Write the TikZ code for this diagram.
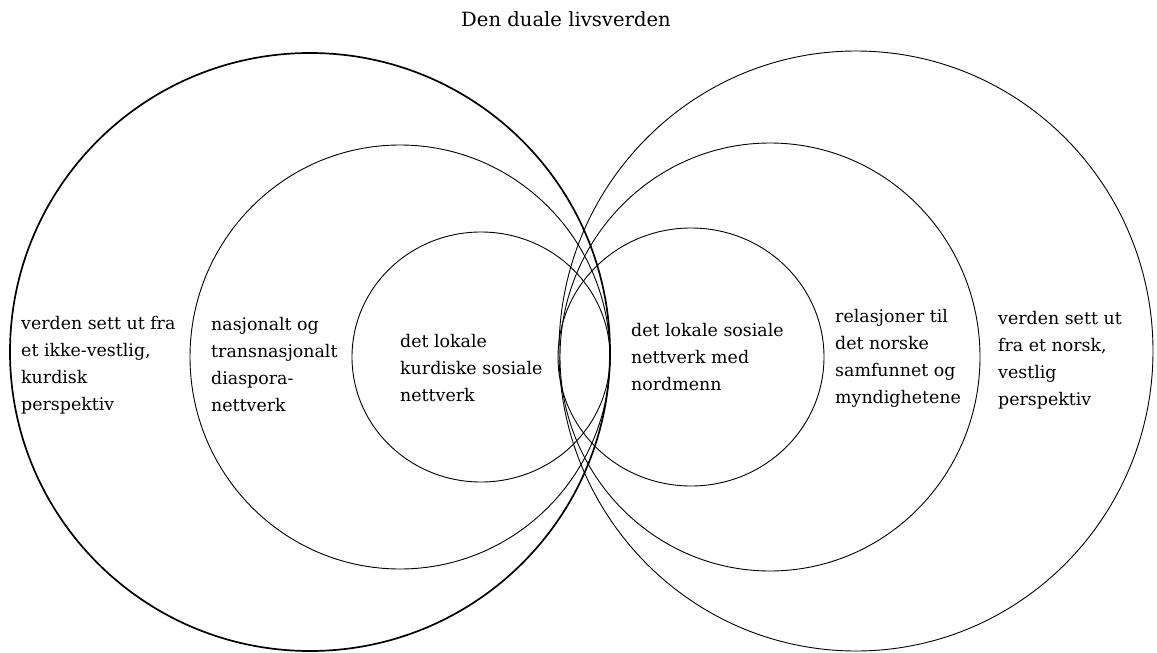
\documentclass[tikz,border=0pt]{standalone}
\usepackage{fontspec}
\setmainfont{DejaVu Serif}
\begin{document}
\begin{tikzpicture}[x=1pt,y=-1pt,
  ring/.style={draw=black,line width=0.9pt},
  thickring/.style={draw=black,line width=1.7pt},
  lbl/.style={anchor=west,align=left,inner sep=0pt,font=\fontsize{17.4}{27}\selectfont},
  ttl/.style={inner sep=0pt,font=\fontsize{19.6}{22}\selectfont}]
\useasboundingbox (0,0) rectangle (1157,653);
% circles
\draw[thickring] (310,352) ellipse [x radius=300pt, y radius=299pt];
\draw[ring] (856,351) ellipse [x radius=297pt, y radius=300pt];
\draw[ring] (400,357) ellipse [x radius=210pt, y radius=212pt];
\draw[ring] (770,357) ellipse [x radius=210pt, y radius=214pt];
\draw[ring] (481,357) ellipse [x radius=129pt, y radius=125pt];
\draw[ring] (691,357) ellipse [x radius=133pt, y radius=129pt];
% title
\node[ttl] (title) at (566,19) {Den duale livsverden};
% labels
\node[lbl] (kurdWorld) at (21,365) {verden sett ut fra\\et ikke-vestlig,\\kurdisk\\perspektiv};
\node[lbl] (diaspora) at (211,365) {nasjonalt og\\transnasjonalt\\diaspora-\\nettverk};
\node[lbl] (kurdLocal) at (400,368) {det lokale\\kurdiske sosiale\\nettverk};
\node[lbl] (norLocal) at (631,357) {det lokale sosiale\\nettverk med\\nordmenn};
\node[lbl] (norRel) at (835,358) {relasjoner til\\det norske\\samfunnet og\\myndighetene};
\node[lbl] (norWorld) at (998,360) {verden sett ut\\fra et norsk,\\vestlig\\perspektiv};
\end{tikzpicture}
\end{document}
